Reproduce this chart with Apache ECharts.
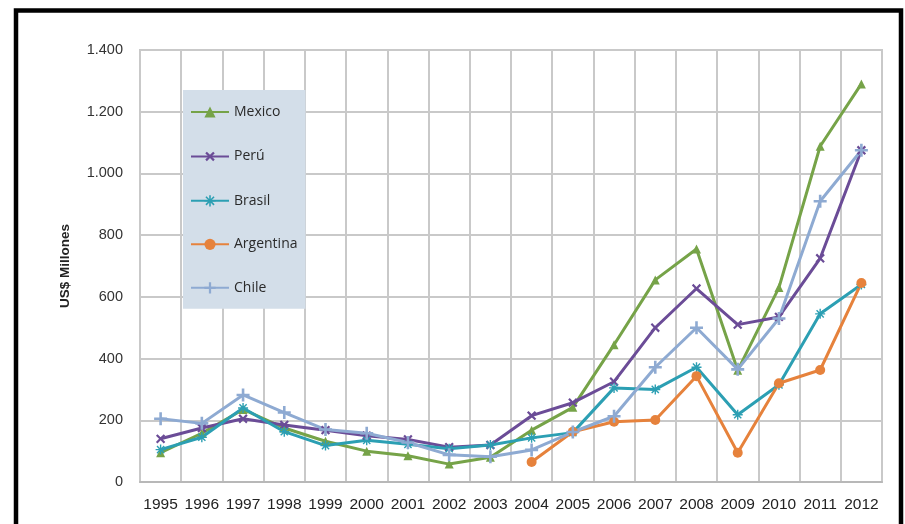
<!DOCTYPE html>
<html>
<head>
<meta charset="utf-8">
<script src="https://cdn.jsdelivr.net/npm/echarts@6/dist/echarts.min.js"></script>
<style>
  html, body { margin: 0; padding: 0; background: #fff; }
  #chart { width: 905px; height: 524px; }
</style>
</head>
<body>
<div id="chart"></div>
<script>
  // categorias (anos)
  var years = ['1995', '1996', '1997', '1998', '1999', '2000', '2001', '2002', '2003',
    '2004', '2005', '2006', '2007', '2008', '2009', '2010', '2011', '2012'];

  // valores en US$ millones
  var mexico = [95, 158, 235, 175, 132, 100, 85, 58, 80, 168, 242, 445, 655, 755, 362, 630, 1088, 1290];
  var peru = [140, 175, 205, 185, 168, 150, 138, 113, 120, 215, 257, 325, 500, 627, 510, 535, 725, 1075];
  var brasil = [105, 145, 240, 163, 118, 135, 122, 108, 120, 143, 160, 305, 300, 372, 218, 315, 545, 640];
  var argentina = [null, null, null, null, null, null, null, null, null, 65, 163, 195, 201, 343, 95, 320, 363, 645];
  var chile = [205, 190, 282, 225, 170, 158, 128, 88, 82, 104, 162, 213, 372, 500, 365, 530, 910, 1075];

  var yTicks = [0, 200, 400, 600, 800, 1000, 1200, 1400];

  var plusPath = 'path://M4,0H6V4H10V6H6V10H4V6H0V4H4Z';
  var starPath = 'path://M4.3,0H5.7V3.3L8.1,0.9L9.1,1.9L6.7,4.3H10V5.7H6.7L9.1,8.1L8.1,9.1L5.7,6.7V10H4.3V6.7L1.9,9.1L0.9,8.1L3.3,5.7H0V4.3H3.3L0.9,1.9L1.9,0.9L4.3,3.3Z';

  function fmt(v) {
    // separador de miles con punto
    return String(v).replace(/\B(?=(\d{3})+(?!\d))/g, '.');
  }

  function serie(name, data, color, symbol, size, rotate) {
    return {
      name: name,
      type: 'line',
      data: data,
      symbol: symbol,
      symbolSize: size,
      symbolRotate: rotate || 0,
      showAllSymbol: true,
      connectNulls: false,
      lineStyle: { color: color, width: 3 },
      itemStyle: { color: color },
      emphasis: { disabled: true }
    };
  }

  var myChart = echarts.init(document.getElementById('chart'), null, { renderer: 'canvas' });

  var option = {
    backgroundColor: '#fff',
    animation: false,
    color: ['#76a348', '#6b4c97', '#2c9fb3', '#e6823c', '#8eaad2'],
    grid: { left: 140, right: 23, top: 50, bottom: 42, show: true, borderColor: '#c9c9c9', borderWidth: 2 },
    graphic: [{
      type: 'rect',
      shape: { x: 16, y: 10.5, width: 885, height: 520 },
      style: { fill: 'none', stroke: '#000', lineWidth: 4.5 },
      silent: true
    }],
    legend: {
      orient: 'vertical',
      left: 183,
      top: 90,
      backgroundColor: '#d3dee9',
      padding: [15, 8, 14, 7],
      itemWidth: 38,
      itemHeight: 14,
      itemGap: 29.5,
      textStyle: { fontFamily: 'Open Sans', fontSize: 14, color: '#2a2a2a' },
      data: ['Mexico', 'Perú', 'Brasil', 'Argentina', 'Chile']
    },
    xAxis: {
      type: 'category',
      data: years,
      boundaryGap: true,
      axisLine: { lineStyle: { color: '#b8b8b8', width: 2 } },
      axisTick: { show: false },
      splitLine: { show: true, interval: 0, lineStyle: { color: '#c9c9c9', width: 2 } },
      axisLabel: {
        interval: 0,
        margin: 15,
        fontFamily: 'Liberation Sans',
        fontSize: 15.5,
        color: '#222'
      }
    },
    yAxis: {
      type: 'value',
      min: yTicks[0],
      max: yTicks[yTicks.length - 1],
      interval: 200,
      name: 'US$ Millones',
      nameLocation: 'middle',
      nameGap: 68,
      nameRotate: 90,
      nameTextStyle: { fontFamily: 'Liberation Sans', fontWeight: 'bold', fontSize: 13.5, color: '#222' },
      axisLine: { show: false },
      axisTick: { show: false },
      splitLine: { lineStyle: { color: '#c9c9c9', width: 2 } },
      axisLabel: {
        margin: 17,
        fontFamily: 'Liberation Sans',
        fontSize: 14.5,
        color: '#333',
        formatter: function (v) { return fmt(v); }
      }
    },
    series: [
      serie('Mexico', mexico, '#76a348', 'triangle', 9),
      serie('Perú', peru, '#6b4c97', plusPath, 11, 45),
      serie('Brasil', brasil, '#2c9fb3', starPath, 10),
      serie('Argentina', argentina, '#e6823c', 'circle', 10),
      serie('Chile', chile, '#8eaad2', plusPath, 13)
    ]
  };

  myChart.setOption(option);
</script>
</body>
</html>
